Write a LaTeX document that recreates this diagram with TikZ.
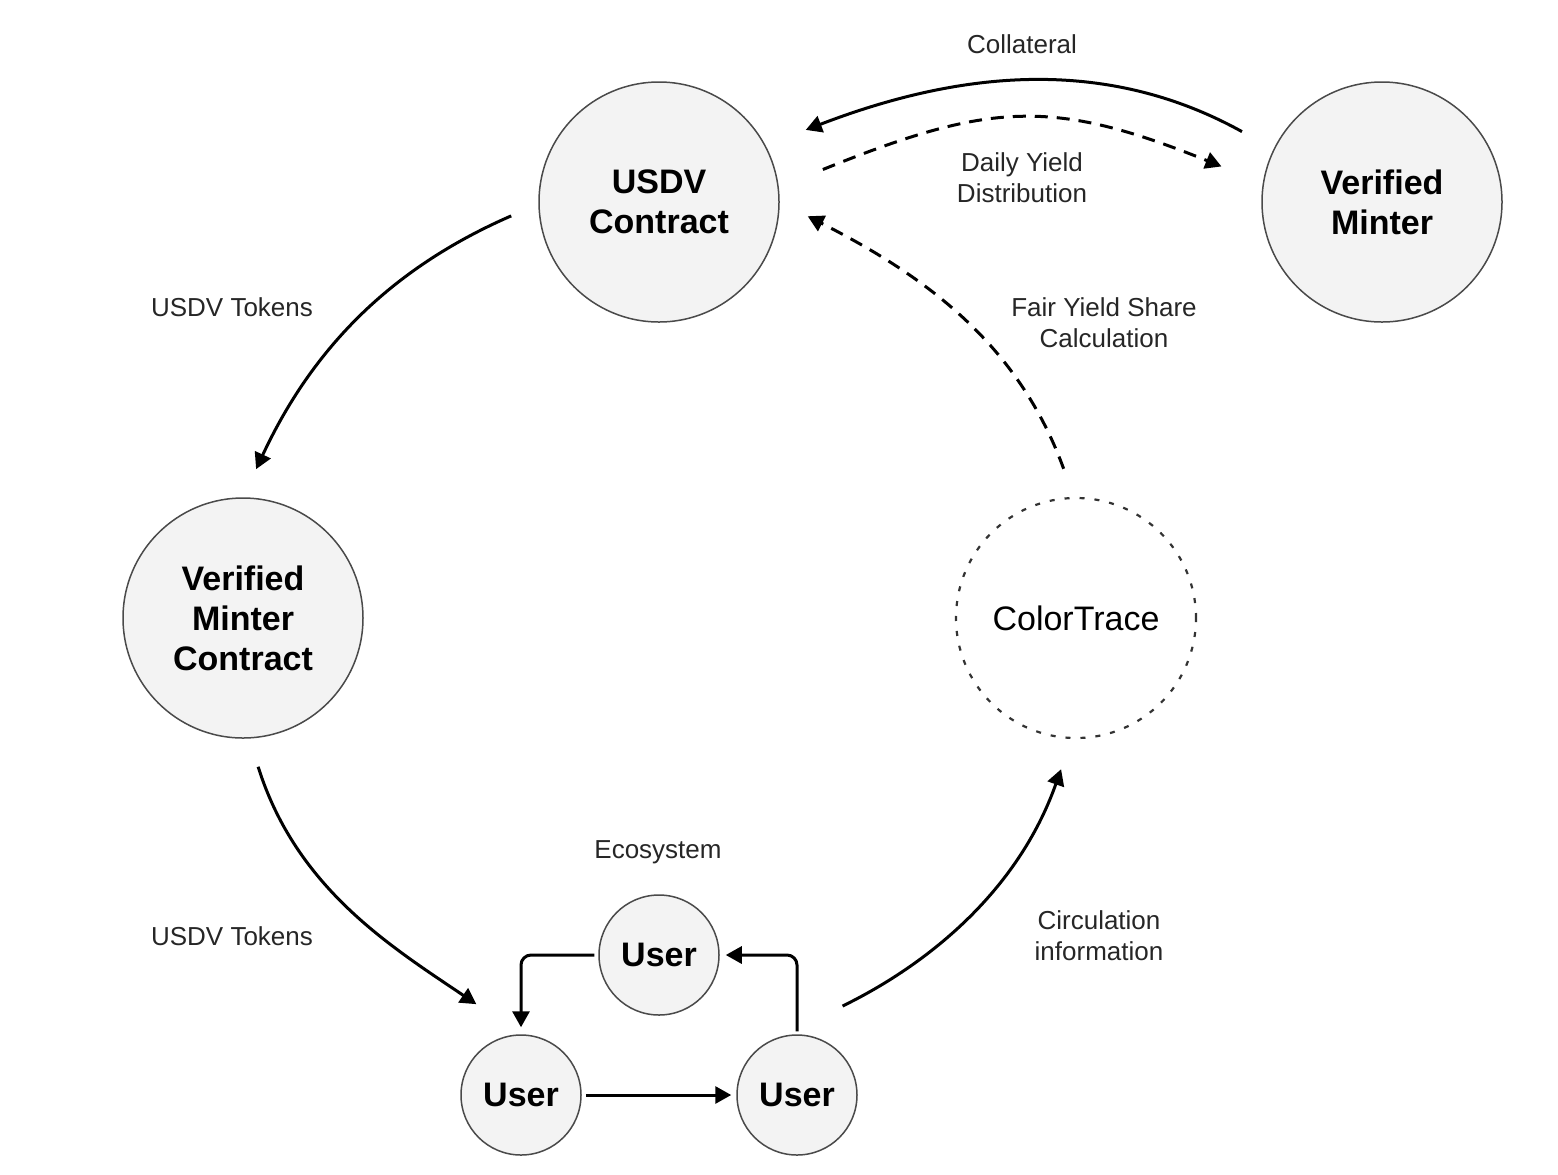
\documentclass[tikz,border=0pt]{standalone}
\usepackage{fontspec}
\setmainfont{Liberation Sans}
\usepackage{xcolor}
\usepackage{tikz}
\usetikzlibrary{arrows.meta}
\definecolor{nodefill}{HTML}{F3F3F3}
\definecolor{nodeline}{HTML}{4A4A4A}

\begin{document}
\begin{tikzpicture}[x=0.5pt,y=-0.5pt,
	big/.style={circle, draw=nodeline, line width=0.75pt, fill=nodefill, minimum size=120pt, inner sep=0pt, align=center, font=\bfseries\fontsize{17}{20}\selectfont},
	usr/.style={big, minimum size=60pt},
	lbl/.style={align=center, text=black!85, font=\fontsize{13}{15.5}\selectfont},
	arr/.style={line width=1.5pt, -{Triangle[length=8pt,width=8.5pt]}},
	darr/.style={arr, dash pattern=on 6.5pt off 4.5pt}]
	\useasboundingbox (0,0) rectangle (1558,1174);
	% circles
	\node[big] (usdv) at (659,202) {USDV\\Contract};
	\node[big] (vm) at (1382,202) {Verified\\Minter};
	\node[big] (vmc) at (243,618) {Verified\\Minter\\Contract};
	\node[big, fill=none, draw=black!80, line width=1.1pt, dash pattern=on 2.5pt off 5pt, font=\fontsize{17}{20}\selectfont] (ct) at (1076,618) {ColorTrace};
	% ecosystem
	\node[usr] (utop) at (659,955) {User};
	\node[usr] (uleft) at (521,1095) {User};
	\node[usr] (uright) at (797,1095) {User};
	% labels
	\node[lbl] (lcoll) at (1022,44) {Collateral};
	\node[lbl] (ldaily) at (1022,178) {Daily Yield\\Distribution};
	\node[lbl] (lfair) at (1104,323) {Fair Yield Share\\Calculation};
	\node[lbl] (ltok1) at (232,307) {USDV Tokens};
	\node[lbl] (ltok2) at (232,936) {USDV Tokens};
	\node[lbl] (leco) at (658,852) {Ecosystem};
	\node[lbl] (lcirc) at (1099,936) {Circulation\\information};
	% arrows
	\draw[arr, shorten <=18pt, shorten >=21.5pt] (vm.154.6) to[out=151,in=21] (usdv.28.2);
	\draw[darr, shorten <=23.75pt, shorten >=22.25pt] (usdv.7.8) to[out=22,in=158,looseness=1.2] (vm.171.7);
	\draw[darr, shorten <=15pt, shorten >=15.7pt] (ct.91.8) to[out=110,in=-27] (usdv.0.6);
	\draw[arr, shorten <=14.75pt, shorten >=15.5pt] (usdv.181) to[out=203.5,in=65] (vmc.north);
	\draw[arr, shorten <=14.75pt, shorten >=26.9pt] (vmc.-87.5) to[out=-72.6,in=146] (uleft.north);
	\draw[arr, shorten <=35.25pt, shorten >=16pt] (uright.107.9) to[out=26,in=-109.5] (ct.-92.5);
	\draw[arr, rounded corners=5pt, shorten <=2pt, shorten >=3.5pt] (utop.west) -| (uleft.north);
	\draw[arr, rounded corners=5pt, shorten <=1.5pt, shorten >=3pt] (uright.north) |- (utop.east);
	\draw[arr, shorten <=2pt, shorten >=2.5pt] (uleft.east) -- (uright.west);
\end{tikzpicture}
\end{document}
